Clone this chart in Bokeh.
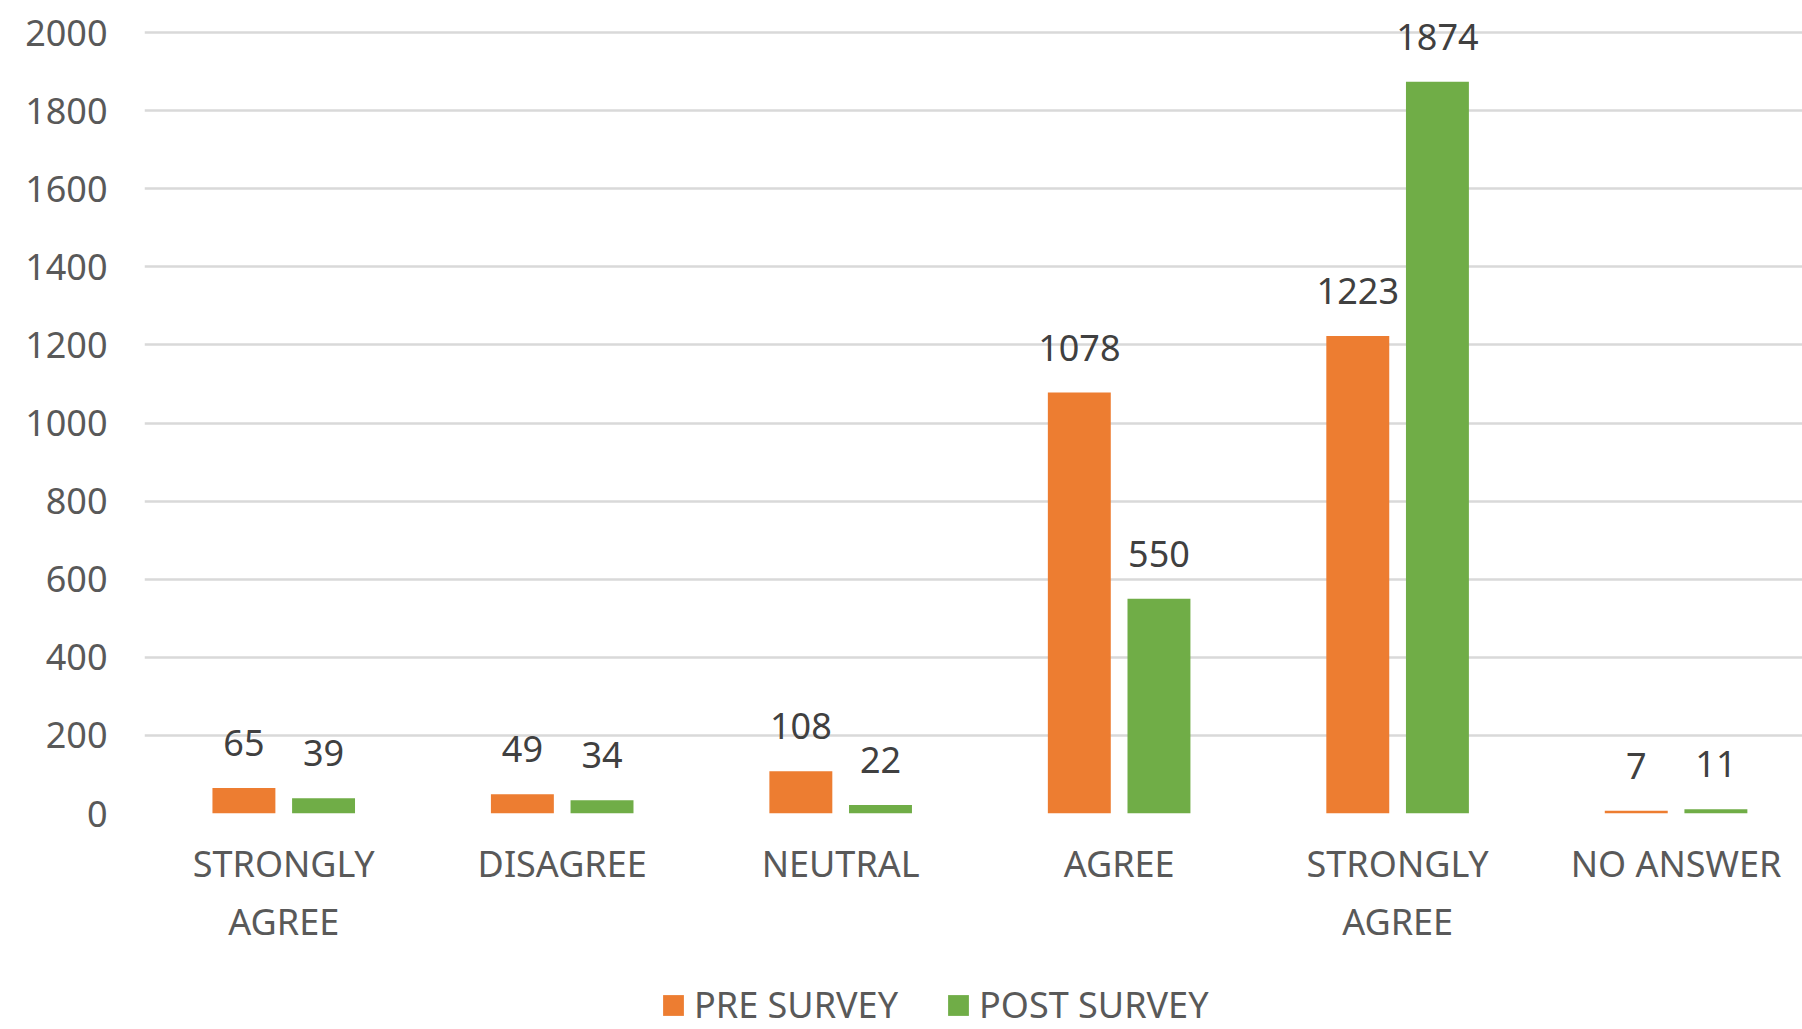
from bokeh.plotting import figure
from bokeh.layouts import column
from bokeh.models import Range1d, FixedTicker, ColumnDataSource, Legend, LegendItem
from bokeh.transform import dodge
from bokeh.core.properties import value
from bokeh.embed import file_html
from bokeh.resources import INLINE

categories = ["STRONGLY\nAGREE", "DISAGREE", "NEUTRAL", "AGREE", "STRONGLY\nAGREE", "NO ANSWER"]
pre_survey = [65, 49, 108, 1078, 1223, 7]
post_survey = [39, 34, 22, 550, 1874, 11]
series_names = ["PRE SURVEY", "POST SURVEY"]
y_ticks = [0, 200, 400, 600, 800, 1000, 1200, 1400, 1600, 1800, 2000]

FONT = "Noto Sans"
AXIS_COLOR = "#595959"
LABEL_COLOR = "#404040"
ORANGE = "#ED7D31"
GREEN = "#70AD47"
COLORS = [ORANGE, GREEN]

positions = list(range(1, len(categories) + 1))
src = ColumnDataSource(dict(
    x=positions,
    pre=pre_survey,
    post=post_survey,
    pre_lbl=[str(v) for v in pre_survey],
    post_lbl=[str(v) for v in post_survey],
))

W_TOTAL = 1802
H_CHART = 960
H_LEG = 68
FRAME_BOTTOM = 813

p = figure(width=W_TOTAL, height=H_CHART, output_backend="svg", toolbar_location=None,
           x_range=Range1d(0.5, 6.454), y_range=Range1d(0, 2082),
           min_border_left=144, min_border_right=0, min_border_top=0,
           min_border_bottom=H_CHART - FRAME_BOTTOM)
p.outline_line_color = None
p.background_fill_color = "white"
p.border_fill_color = "white"

OFF = 0.143
W = 0.226
p.vbar(x=dodge("x", -OFF), top="pre", width=W, source=src,
       fill_color=ORANGE, line_color=None)
p.vbar(x=dodge("x", OFF), top="post", width=W, source=src,
       fill_color=GREEN, line_color=None)

for col, lbl, off in (("pre", "pre_lbl", -OFF), ("post", "post_lbl", OFF)):
    p.text(x=dodge("x", off), y=col, text=lbl, source=src, y_offset=-45,
           text_align="center", text_baseline="middle",
           text_font=value(FONT), text_font_size="36px", text_color=LABEL_COLOR)

# axes
p.xaxis.ticker = FixedTicker(ticks=positions)
p.xaxis.major_label_overrides = {pos: c for pos, c in zip(positions, categories)}
p.yaxis.ticker = FixedTicker(ticks=y_ticks)
for ax in (p.xaxis, p.yaxis):
    ax.axis_line_color = None
    ax.major_tick_line_color = None
    ax.minor_tick_line_color = None
    ax.major_tick_out = 0
    ax.major_tick_in = 0
    ax.major_label_text_font = FONT
    ax.major_label_text_font_size = "36px"
    ax.major_label_text_color = AXIS_COLOR
p.xaxis.major_label_standoff = 25
p.yaxis.major_label_standoff = 37

p.xgrid.visible = False
p.ygrid.ticker = FixedTicker(ticks=y_ticks)
p.ygrid.grid_line_color = "#d9d9d9"
p.ygrid.grid_line_width = 2.5

# legend strip below the chart (its frame is aligned with the chart frame)
leg_fig = figure(width=W_TOTAL, height=H_LEG, output_backend="svg", toolbar_location=None,
                 x_range=Range1d(0, 1), y_range=Range1d(0, 1),
                 min_border_left=144, min_border_right=0, min_border_top=0,
                 min_border_bottom=0)
for ax in leg_fig.axis:
    ax.visible = False
for g in leg_fig.grid:
    g.visible = False
leg_fig.outline_line_color = None
leg_fig.background_fill_color = "white"
leg_fig.border_fill_color = "white"
items = []
for name, color in zip(series_names, COLORS):
    # zero-height legend proxy glyph (draws nothing in the strip itself)
    r = leg_fig.vbar(x=[0.5], top=[0], width=0.1, fill_color=color, line_color=None)
    items.append(LegendItem(label=name, renderers=[r]))

legend = Legend(items=items, orientation="horizontal", location=(516, -1),
                glyph_width=26, glyph_height=26, label_standoff=8, spacing=47,
                padding=0, margin=0, border_line_color=None,
                background_fill_alpha=0,
                label_text_font=FONT, label_text_font_size="36px",
                label_text_color=AXIS_COLOR)
leg_fig.add_layout(legend, "center")

layout = column(p, leg_fig, spacing=0)
open("out.html", "w").write(file_html(layout, INLINE))
